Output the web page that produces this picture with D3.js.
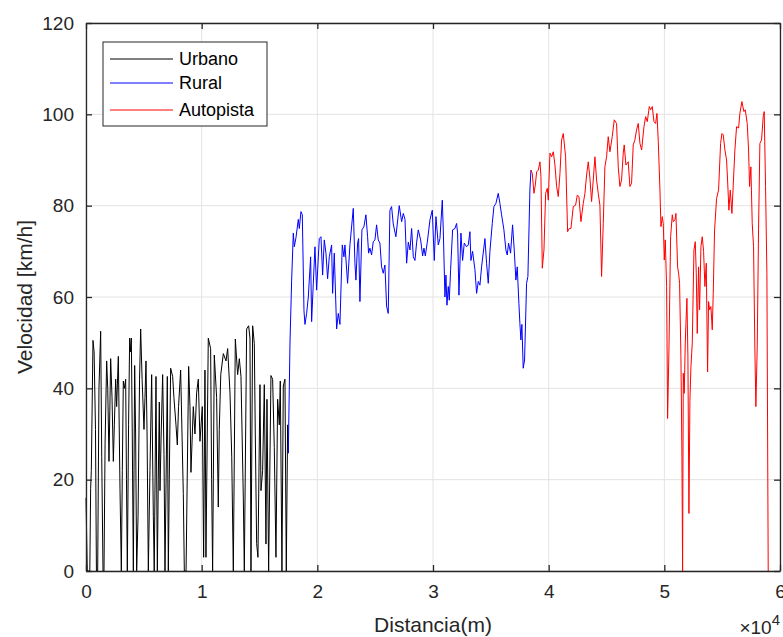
<!DOCTYPE html>
<html>
<head>
<meta charset="utf-8">
<script src="https://cdn.jsdelivr.net/npm/d3@7"></script>
<style>
  body { margin: 0; background: #fff; }
  svg { display: block; font-family: 'Liberation Sans', Arial, sans-serif; }
</style>
</head>
<body>
<svg width="783" height="637"></svg>
<script>
// series names and colours
const seriesNames = ['Urbano', 'Rural', 'Autopista']
const seriesColors = ['#000000', '#0000ff', '#ff0000']

const xTicks = [0, 10000, 20000, 30000, 40000, 50000, 60000]
const yTicks = [0, 20, 40, 60, 80, 100, 120]

// [distancia (m), velocidad (km/h)]
const urbano = [
  [0, 16], [110, 0], [330, 0], [400, 18], [460, 22], [605, 50.5], [700, 48], [820, 31], [900, 0], [1010, 0],
  [1120, 40], [1268, 52.5], [1360, 25], [1470, 0], [1556, 0], [1650, 28], [1787, 46], [1880, 40], [1988, 24],
  [2060, 35], [2132, 46.5], [2250, 38], [2363, 24], [2450, 32], [2565, 42], [2650, 36], [2795, 47], [2880, 30],
  [2939, 18], [3055, 0], [3140, 22], [3227, 41.6], [3330, 40], [3429, 42], [3500, 20], [3573, 0], [3680, 32],
  [3775, 51], [3850, 48], [3919, 51], [4000, 30], [4092, 0], [4150, 22], [4207, 45], [4290, 30], [4380, 0],
  [4500, 12], [4630, 42], [4726, 53], [4850, 42], [5014, 31], [5100, 38], [5187, 46], [5280, 30], [5389, 0],
  [5530, 22], [5677, 43], [5821, 12], [5900, 0], [6051, 42.6], [6167, 0], [6250, 20], [6339, 37], [6397, 17.6],
  [6500, 30], [6627, 43], [6743, 25.5], [6829, 0], [7031, 42.6], [7117, 0], [7200, 20], [7319, 44.4], [7491, 42.6],
  [7600, 38], [7779, 32], [7895, 27.6], [8000, 36], [8183, 44], [8300, 30], [8413, 17], [8500, 0], [8650, 0],
  [8874, 44.8], [8989, 36], [9075, 21.6], [9277, 36], [9421, 30], [9565, 39], [9709, 42], [9853, 28.4],
  [10055, 36], [10170, 3], [10285, 44], [10371, 3], [10573, 51], [10775, 48.7], [10860, 20], [10947, 0],
  [11091, 47.3], [11293, 38], [11437, 14], [11523, 31], [11650, 43], [11873, 47.6], [12103, 46], [12247, 48.7],
  [12449, 39], [12600, 25], [12737, 0], [12909, 50.8], [13111, 43], [13255, 46.5], [13399, 42.6], [13601, 16],
  [13687, 0], [13889, 53], [14061, 53.7], [14177, 51], [14263, 0], [14407, 53.7], [14551, 49.8], [14637, 29.8],
  [14753, 6], [14867, 3], [15041, 40.8], [15127, 17.6], [15271, 22], [15415, 40.8], [15559, 5.9], [15645, 37.6],
  [15789, 0], [15991, 42.8], [16135, 42], [16279, 27], [16423, 3], [16567, 37.6], [16711, 32], [16797, 41.6],
  [16941, 0], [17057, 40.5], [17201, 42], [17316, 0], [17431, 32], [17491, 25.8]
]

const rural = [
  [17491, 25.8], [17635, 49.9], [17779, 63.7], [17923, 74], [18009, 71], [18153, 73], [18355, 77], [18441, 75],
  [18585, 78.7], [18701, 78], [18845, 57], [18931, 54], [19075, 56.4], [19219, 60], [19421, 68.8], [19507, 54.6],
  [19651, 63], [19795, 71], [19939, 61.5], [20169, 72.8], [20313, 73.2], [20457, 64.8], [20601, 72.5],
  [20745, 69.6], [20889, 64], [21033, 68.8], [21235, 71.4], [21321, 60.8], [21465, 69.6], [21667, 53],
  [21811, 56.4], [21955, 54], [22157, 71.4], [22301, 68.8], [22387, 71.4], [22617, 63], [22819, 71.4],
  [23107, 79.4], [23251, 67.4], [23337, 63.7], [23481, 71.8], [23567, 72.8], [23683, 59], [23855, 74.7],
  [24027, 75.4], [24201, 78], [24345, 73.2], [24431, 69.6], [24547, 70.7], [24691, 69.2], [24835, 72.1],
  [24979, 72.5], [25123, 75.8], [25267, 72.5], [25411, 71.8], [25555, 66.6], [25699, 65.2], [25843, 67],
  [25987, 58], [26131, 56.4], [26275, 79], [26419, 79.8], [26563, 76], [26793, 73.2], [27081, 80],
  [27289, 76.5], [27433, 78.3], [27577, 77], [27721, 67.4], [27865, 72], [28009, 70.3], [28153, 75],
  [28297, 68.8], [28441, 68], [28585, 72], [28729, 74.7], [28931, 72.5], [29103, 69], [29219, 70.7],
  [29334, 69], [29507, 72], [29737, 76.9], [29939, 79], [30111, 68], [30255, 77.6], [30457, 71.4],
  [30601, 72.8], [30803, 81.2], [30889, 74.7], [31033, 60], [31119, 64.8], [31206, 58.2], [31321, 62.3],
  [31407, 59.3], [31523, 66], [31695, 74.7], [31897, 75], [32041, 76.1], [32127, 74], [32243, 60.4],
  [32415, 74], [32559, 68], [32703, 71.8], [32905, 71], [33049, 71.4], [33193, 74.3], [33279, 68],
  [33423, 70], [33625, 66], [33769, 60.8], [33913, 63.4], [34057, 62.6], [34201, 66.6], [34489, 72.8],
  [34633, 67.4], [34777, 63], [34921, 70], [35123, 76.1], [35267, 79.8], [35439, 80.5], [35641, 82.7],
  [35785, 80.5], [35929, 78], [36131, 74.7], [36303, 70.3], [36419, 69.2], [36533, 71.8], [36707, 69.6],
  [36879, 75.8], [37023, 70.3], [37167, 63.7], [37283, 66.6], [37427, 58.6], [37513, 54.2], [37599, 50.6],
  [37685, 54], [37801, 44.4], [37917, 46.2], [38089, 63], [38205, 64.5], [38377, 83.4], [38469, 87.8]
]

const autopista = [
  [38469, 87.8], [38585, 87], [38729, 82.7], [38844, 84.5], [38959, 87.4], [39103, 87.8], [39247, 89.6],
  [39333, 86.4], [39449, 66.3], [39593, 70.3], [39737, 82.7], [39881, 83.8], [39967, 81.2], [40111, 91.5],
  [40255, 90.7], [40399, 91.8], [40543, 88.9], [40687, 84.2], [40831, 82], [40975, 87], [41119, 94.4],
  [41263, 95.8], [41465, 90.7], [41637, 74.3], [41781, 75], [41925, 75], [42127, 79.8], [42329, 80.1],
  [42473, 82.3], [42617, 82], [42789, 76.5], [42991, 80.5], [43135, 82.7], [43279, 86.7], [43423, 89.6],
  [43567, 86], [43711, 80.9], [43855, 85.6], [43999, 90.7], [44143, 85.6], [44287, 82.7], [44431, 80.1],
  [44575, 64.5], [44719, 76.1], [44863, 88.5], [45007, 90.7], [45151, 95.1], [45295, 91.8], [45497, 95.1],
  [45669, 98.8], [45871, 98], [46015, 88.5], [46159, 84.2], [46303, 85.6], [46447, 91.5], [46533, 93.3],
  [46677, 88.9], [46879, 89.6], [47023, 84.2], [47167, 84.9], [47311, 93.3], [47455, 94.4], [47599, 96.6],
  [47743, 98], [47893, 93.6], [48037, 92.2], [48239, 97.3], [48383, 99.5], [48527, 98.4], [48699, 101.7],
  [48815, 101], [48959, 101.7], [49103, 98.4], [49247, 98], [49362, 100.2], [49477, 94], [49621, 83.4],
  [49707, 75.4], [49823, 77.6], [49909, 76.1], [49995, 68.1], [50081, 72.5], [50197, 62.3], [50283, 33.4],
  [50399, 48.4], [50543, 73.2], [50687, 78], [50773, 76.5], [50917, 76.9], [51003, 78.3], [51147, 66.6],
  [51233, 65.2], [51319, 63], [51435, 46.9], [51521, 25], [51579, 0], [51637, 43.3], [51723, 38.9],
  [51809, 49.9], [51867, 54.2], [51953, 59.7], [52039, 46.9], [52127, 12.6], [52213, 37.4], [52299, 44.7],
  [52415, 49.9], [52559, 70.3], [52675, 72.1], [52761, 65.2], [52847, 52], [52963, 66.6], [53049, 57.2],
  [53163, 71], [53279, 73.2], [53393, 70], [53509, 62.3], [53625, 67.4], [53739, 43.6], [53825, 59],
  [53911, 57.2], [54027, 57.9], [54143, 52.8], [54229, 60.8], [54343, 74.7], [54517, 81.6], [54689, 83.4],
  [54863, 93.6], [54977, 95.8], [55093, 95.5], [55237, 92.2], [55381, 90], [55467, 85.6], [55583, 79],
  [55699, 83.4], [55843, 78.3], [55957, 84.5], [56101, 92.2], [56245, 97.3], [56419, 97], [56533, 100.2],
  [56707, 102.8], [56879, 100.6], [56995, 101], [57167, 98], [57283, 92.2], [57369, 84.2], [57483, 88.5],
  [57599, 76.1], [57713, 71], [57829, 48.4], [57915, 36], [58031, 49.1], [58145, 74.7], [58261, 93.6],
  [58405, 94.4], [58549, 99.5], [58635, 100.6], [58751, 84.2], [58867, 65.2], [58981, 0]
]

const allSeries = [urbano, rural, autopista]

const margin = { top: 23, right: 3, bottom: 66, left: 86 }
const width = 783
const height = 637
const axisColor = '#262626'

const svg = d3.select('svg')

const xScale = d3.scaleLinear()
  .domain([0, 60000])
  .range([margin.left, width - margin.right])

const yScale = d3.scaleLinear()
  .domain([0, 120])
  .range([height - margin.bottom, margin.top])

const x0 = xScale.range()[0], x1 = xScale.range()[1]
const y0 = yScale.range()[0], y1 = yScale.range()[1]

// grid
svg.append('g')
  .selectAll('line')
  .data(xTicks)
  .enter().append('line')
  .attr('x1', d => xScale(d)).attr('x2', d => xScale(d))
  .attr('y1', y0).attr('y2', y1)
  .attr('stroke', '#e3e3e3')
  .attr('stroke-width', 1)

svg.append('g')
  .selectAll('line')
  .data(yTicks)
  .enter().append('line')
  .attr('x1', x0).attr('x2', x1)
  .attr('y1', d => yScale(d)).attr('y2', d => yScale(d))
  .attr('stroke', '#e3e3e3')
  .attr('stroke-width', 1)

// lines
const line = d3.line()
  .x(d => xScale(d[0]))
  .y(d => yScale(d[1]))

svg.append('g')
  .selectAll('path')
  .data(allSeries)
  .enter().append('path')
  .attr('d', line)
  .attr('fill', 'none')
  .attr('stroke', (d, i) => seriesColors[i])
  .attr('stroke-width', 1)
  .attr('stroke-linejoin', 'round')

// axes (ticks inside, box)
const xAxis = d3.axisBottom(xScale)
  .tickValues(xTicks)
  .tickSizeInner(-6)
  .tickSizeOuter(0)
  .tickPadding(14)
  .tickFormat(d => d / 10000)

const yAxis = d3.axisLeft(yScale)
  .tickValues(yTicks)
  .tickSizeInner(-6)
  .tickSizeOuter(0)
  .tickPadding(12)

const gx = svg.append('g')
  .attr('transform', `translate(0, ${y0})`)
  .call(xAxis)

const gy = svg.append('g')
  .attr('transform', `translate(${x0}, 0)`)
  .call(yAxis)

// top / right ticks
svg.append('g')
  .attr('transform', `translate(0, ${y1})`)
  .call(d3.axisTop(xScale).tickValues(xTicks).tickSizeInner(-6).tickSizeOuter(0).tickFormat(''))

svg.append('g')
  .attr('transform', `translate(${x1}, 0)`)
  .call(d3.axisRight(yScale).tickValues(yTicks).tickSizeInner(-6).tickSizeOuter(0).tickFormat(''))

svg.selectAll('.domain').attr('stroke', axisColor).attr('stroke-width', 1.3)
svg.selectAll('.tick line').attr('stroke', axisColor).attr('stroke-width', 1.3)
svg.selectAll('.tick text')
  .attr('fill', axisColor)
  .style('font-size', '19px')
  .style('font-family', "'Liberation Sans', Arial, sans-serif")

// axis labels
svg.append('text')
  .text('Distancia(m)')
  .attr('x', (x0 + x1) / 2)
  .attr('y', 632)
  .attr('text-anchor', 'middle')
  .attr('fill', axisColor)
  .style('font-size', '21px')

svg.append('text')
  .text('Velocidad [km/h]')
  .attr('transform', `translate(32, ${(y0 + y1) / 2}) rotate(-90)`)
  .attr('text-anchor', 'middle')
  .attr('fill', axisColor)
  .style('font-size', '21px')

// exponent
const expo = svg.append('text')
  .attr('x', 780)
  .attr('y', 634)
  .attr('text-anchor', 'end')
  .attr('fill', axisColor)
  .style('font-size', '19px')
expo.append('tspan').text('\u00d710')
expo.append('tspan').text('4').attr('dy', -9).style('font-size', '15px')

// legend
const legend = svg.append('g')
  .attr('transform', 'translate(103, 42)')

legend.append('rect')
  .attr('width', 164)
  .attr('height', 84)
  .attr('fill', '#fff')
  .attr('stroke', axisColor)
  .attr('stroke-width', 1)

const rows = legend.selectAll('.row')
  .data(seriesNames)
  .enter().append('g')
  .attr('class', 'row')
  .attr('transform', (d, i) => `translate(0, ${[17, 41, 68][i]})`)

rows.append('line')
  .attr('x1', 7).attr('x2', 70)
  .attr('stroke', (d, i) => seriesColors[i])
  .attr('stroke-width', 1)

rows.append('text')
  .text(d => d)
  .attr('x', 76)
  .attr('dy', '0.35em')
  .attr('fill', '#000')
  .style('font-size', '18px')
</script>
</body>
</html>
